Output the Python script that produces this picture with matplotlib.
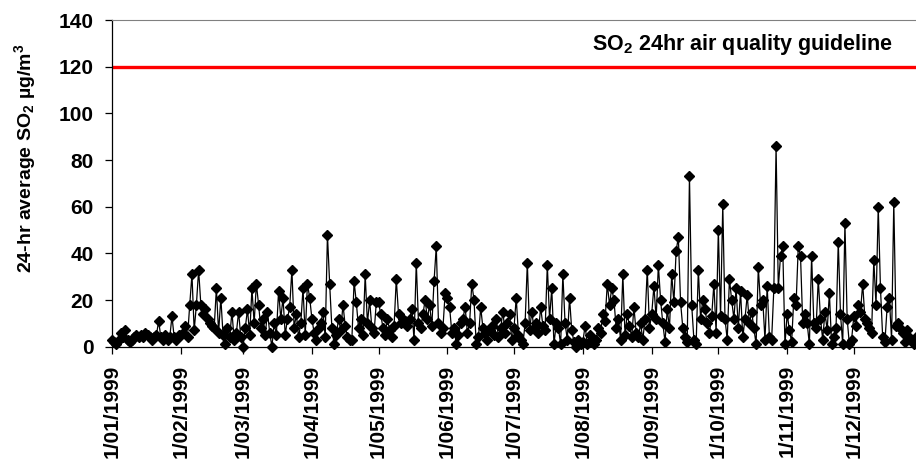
import datetime as dt

import matplotlib
matplotlib.use('Agg')
import matplotlib.pyplot as plt

plt.rcParams['font.family'] = ['Liberation Sans', 'DejaVu Sans']
plt.rcParams['font.weight'] = 'bold'
plt.rcParams['mathtext.fontset'] = 'custom'
plt.rcParams['mathtext.rm'] = 'Liberation Sans:bold'
plt.rcParams['mathtext.it'] = 'Liberation Sans:bold'
plt.rcParams['mathtext.bf'] = 'Liberation Sans:bold'
plt.rcParams['mathtext.default'] = 'rm'

# daily 24-hr average SO2 (ug/m3), 1999
jan = [3, 2, 1, 3, 6, 4, 7, 3, 2, 3, 4, 5, 4, 5, 4, 6, 5, 4, 3, 4, 5, 11,
       4, 3, 5, 3, 4, 13, 4, 3, 5]
feb = [5, 6, 9, 4, 18, 31, 7, 18, 33, 18, 14, 16, 12, 10, 9, 8, 25, 6, 21,
       5, 1, 8, 4, 15, 3, 6, 15, 4]
mar = [0, 8, 16, 5, 25, 10, 27, 18, 8, 12, 5, 15, 6, 0, 10, 5, 24, 12, 21,
       5, 12, 17, 33, 8, 14, 4, 10, 25, 5, 27, 21]
apr = [12, 6, 3, 8, 10, 15, 4, 48, 27, 8, 1, 5, 12, 7, 18, 9, 4, 3, 3, 28,
       19, 8, 12, 5, 31, 10, 20, 8, 6, 19]
may = [19, 14, 8, 5, 12, 7, 4, 9, 29, 14, 10, 12, 11, 9, 12, 16, 3, 36, 10,
       8, 14, 20, 12, 18, 9, 28, 43, 10, 6, 8, 23]
jun = [21, 17, 6, 8, 1, 5, 10, 12, 17, 6, 10, 27, 20, 1, 4, 17, 8, 6, 3, 7,
       9, 5, 12, 4, 8, 15, 6, 10, 14, 3]
jul = [8, 21, 5, 3, 1, 10, 36, 7, 15, 8, 10, 6, 17, 9, 7, 35, 12, 25, 1, 10,
       8, 1, 31, 10, 3, 21, 7, 2, 0, 3, 1]
aug = [2, 9, 1, 5, 2, 1, 3, 8, 6, 14, 11, 27, 18, 25, 20, 8, 12, 3, 31, 5,
       14, 9, 4, 17, 6, 4, 10, 3, 12, 33, 8]
sep = [14, 26, 12, 35, 20, 10, 2, 16, 8, 31, 19, 41, 47, 19, 8, 4, 2, 73,
       18, 3, 1, 33, 12, 20, 16, 10, 6, 13, 27, 6]
oct_ = [50, 13, 61, 12, 3, 29, 20, 12, 25, 8, 24, 4, 12, 22, 10, 15, 8, 1,
        34, 18, 20, 3, 26, 4, 3, 25, 86, 25, 39, 43, 1]
nov = [14, 7, 2, 21, 18, 43, 39, 10, 14, 10, 1, 39, 10, 8, 29, 12, 3, 15, 7,
       23, 1, 4, 8, 45, 14, 1, 53, 12, 1, 3]
dec = [13, 9, 18, 15, 27, 12, 10, 8, 6, 37, 18, 60, 25, 4, 2, 17, 21, 3, 62,
       9, 10, 8, 6, 2, 7, 4, 3, 1, 4, 3, 2]

so2 = jan + feb + mar + apr + may + jun + jul + aug + sep + oct_ + nov + dec
dates = [dt.date(1999, 1, 1) + dt.timedelta(days=i) for i in range(len(so2))]

guideline = 120
month_labels = ['1/01/1999', '1/02/1999', '1/03/1999', '1/04/1999',
                '1/05/1999', '1/06/1999', '1/07/1999', '1/08/1999',
                '1/09/1999', '1/10/1999', '1/11/1999', '1/12/1999']
month_ticks = [dt.date(1999, m, 1) for m in range(1, 13)]

fig = plt.figure(figsize=(9.16, 4.61), dpi=100)
ax = fig.add_axes([112 / 916, 1 - 346.7 / 461, 804 / 916, 326.7 / 461])

ax.axhline(guideline, color='#ff0000', lw=2.4, zorder=1)
ax.plot(dates, so2, color='black', lw=0.9, marker='D', ms=5,
        mfc='black', mec='black', clip_on=False, zorder=3)

ax.set_xlim(dt.date(1999, 1, 1), dt.date(1999, 1, 1) + dt.timedelta(days=362))
ax.set_ylim(0, 140)
ax.set_yticks(range(0, 141, 20))
ax.set_xticks(month_ticks)
ax.set_xticklabels(month_labels, rotation=90)

ax.tick_params(axis='both', direction='out', length=5, width=0.9,
               labelsize=15, colors='black')
ax.tick_params(axis='y', pad=8)
ax.tick_params(axis='x', pad=8)
for lab in ax.get_xticklabels() + ax.get_yticklabels():
    lab.set_fontweight('bold')

ax.spines['right'].set_visible(False)
ax.spines['top'].set_color('#808080')
ax.spines['left'].set_linewidth(0.9)
ax.spines['bottom'].set_linewidth(0.9)

fig.text(25 / 916, 1 - 158 / 461, r'24-hr average SO$_2$ µg/m$^3$',
         rotation=90, ha='center', va='center', fontsize=14,
         fontweight='bold')

ax.text(781 / 804, 129.3, r'SO$_2$ 24hr air quality guideline',
        transform=ax.get_yaxis_transform(), ha='right', va='center',
        fontsize=15.5, fontweight='bold')

fig.savefig('out.png', dpi=100)
